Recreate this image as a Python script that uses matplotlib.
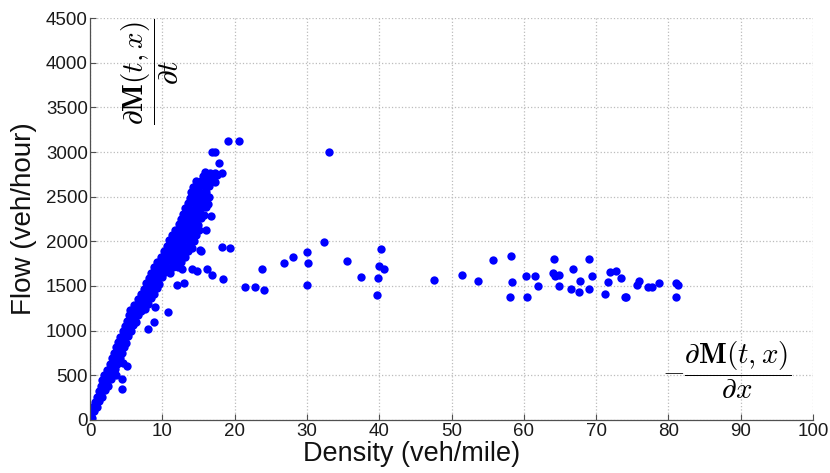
import matplotlib
matplotlib.use("Agg")
import matplotlib.pyplot as plt

# Free-flow branch: densely packed observations (veh/mile, veh/hour)
density_core = [
    0.1, 0.3,
    0.3, 0.6,
    0.5, 0.9,
    0.7, 1.2,
    1.0, 1.3, 1.6,
    1.2, 1.7, 2.1,
    1.5, 2.0, 2.5,
    1.7, 2.3, 2.9,
    2.0, 2.6, 3.2, 3.6,
    2.3, 2.9, 3.5,
    2.7, 3.2, 3.8, 4.5,
    3.0, 3.5, 4.1,
    3.3, 3.8, 4.4,
    3.6, 4.1, 4.7,
    3.9, 4.4, 5.0,
    4.2, 4.7, 5.3,
    4.6, 5.1, 5.7,
    4.8, 5.4, 6.0,
    5.1, 5.7, 6.3,
    5.4, 6.0, 6.6,
    5.6, 6.3, 7.0, 7.6,
    6.1, 6.7, 7.3, 8.0,
    6.6, 7.2, 7.8, 8.5,
    7.0, 7.6, 8.2, 8.9,
    7.4, 8.0, 8.6, 9.2,
    7.8, 8.4, 9.0, 9.6,
    8.2, 8.8, 9.4, 10.0,
    8.5, 9.1, 9.7, 10.4, 11.1,
    8.9, 9.5, 10.1, 10.8, 11.5, 12.2,
    9.3, 9.9, 10.5, 11.2, 11.9, 12.6,
    9.8, 10.4, 11.0, 11.7, 12.4, 13.1,
    10.2, 10.8, 11.4, 12.1, 12.8, 13.5,
    10.6, 11.2, 11.8, 12.5, 13.2, 13.9,
    10.9, 11.5, 12.2, 12.9, 13.6, 14.4,
    11.4, 12.0, 12.7, 13.4, 14.1, 14.7,
    11.8, 12.4, 13.1, 13.8, 14.5, 15.1,
    12.3, 12.9, 13.6, 14.3, 15.0,
    12.6, 13.3, 14.0, 14.7, 15.4,
    12.9, 13.6, 14.3, 15.0, 15.7,
    13.2, 13.9, 14.6, 15.3, 16.0,
    13.5, 14.2, 14.9, 15.6, 16.3,
    13.8, 14.5, 15.2, 15.9, 16.4,
    14.0, 14.7, 15.4, 16.1,
    14.3, 15.0, 15.7, 16.5,
    14.6, 15.3, 16.0, 16.8, 17.3,
    15.6, 16.3, 17.0, 17.6,
    15.9, 16.6, 17.3,
]
flow_core = [
    35, 20,
    90, 100,
    155, 145,
    200, 215,
    260, 270, 255,
    330, 320, 335,
    380, 392, 378,
    450, 440, 455,
    505, 498, 512, 500,
    560, 572, 566,
    625, 618, 632, 640,
    690, 684, 698,
    745, 756, 750,
    812, 805, 816,
    868, 875, 862,
    930, 925, 938,
    992, 985, 996,
    1050, 1044, 1058,
    1108, 1115, 1102,
    1172, 1165, 1178,
    1230, 1236, 1224, 1240,
    1288, 1295, 1282, 1300,
    1350, 1344, 1356, 1362,
    1410, 1418, 1404, 1414,
    1468, 1475, 1462, 1480,
    1530, 1524, 1536, 1520,
    1590, 1584, 1596, 1600,
    1650, 1644, 1656, 1662, 1640,
    1712, 1705, 1718, 1700, 1710, 1716,
    1770, 1764, 1776, 1782, 1760, 1772,
    1830, 1838, 1824, 1836, 1828, 1820,
    1890, 1884, 1896, 1902, 1880, 1888,
    1950, 1944, 1958, 1948, 1940, 1955,
    2010, 2016, 2004, 2012, 2020, 2002,
    2070, 2064, 2078, 2068, 2060, 2075,
    2130, 2124, 2136, 2128, 2140, 2122,
    2190, 2196, 2184, 2192, 2186,
    2250, 2244, 2256, 2248, 2258,
    2310, 2316, 2304, 2312, 2300,
    2370, 2364, 2376, 2368, 2380,
    2430, 2436, 2424, 2432, 2420,
    2490, 2484, 2496, 2488, 2500,
    2550, 2556, 2544, 2552,
    2610, 2604, 2616, 2620,
    2670, 2676, 2664, 2672, 2660,
    2730, 2724, 2736, 2740,
    2775, 2770, 2762,
]

# Scattered observations around the edge of the free-flow branch
density_edge = [16.0, 16.7, 15.4, 14.1, 15.2, 12.7, 14.1, 14.8, 16.2, 16.9,
                18.4, 13.0, 12.0, 10.8, 9.0, 8.8, 8.0, 5.1, 4.4, 4.4,
                17.8, 18.2, 16.9, 17.3, 19.1, 20.6, 18.3, 19.3]
flow_edge = [2128, 2285, 1896, 1922, 1904, 1687, 1687, 1672, 1687, 1624,
             1575, 1530, 1512, 1206, 1262, 1101, 1019, 608, 459, 347,
             2881, 2762, 3000, 3000, 3124, 3124, 1941, 1922]

# Congested branch
density_cong = [21.5, 22.8, 24.0, 23.8, 26.8, 28.1, 30.0, 30.2, 30.0, 32.4,
                33.1, 35.5, 37.5, 40.2, 40.0, 40.7, 39.9, 39.7,
                47.6, 51.4, 53.6, 55.7, 58.2, 58.3, 58.1,
                60.3, 61.5, 60.5, 61.9,
                64.2, 64.0, 64.8, 64.3, 64.8, 66.5, 66.8, 67.8, 67.7,
                69.0, 69.5, 69.0, 71.9, 72.8, 71.6, 71.3, 73.4, 74.0, 74.2,
                76.0, 75.7, 77.2, 77.7, 78.7, 81.1, 81.3, 81.0]
flow_cong = [1489, 1489, 1456, 1687, 1758, 1825, 1878, 1761, 1512, 1995,
             3000, 1782, 1605, 1915, 1721, 1687, 1584, 1400,
             1562, 1622, 1557, 1792, 1840, 1542, 1381,
             1616, 1616, 1381, 1504,
             1799, 1650, 1624, 1616, 1504, 1467, 1687, 1557, 1430,
             1799, 1616, 1467, 1661, 1672, 1542, 1411, 1586, 1374, 1381,
             1557, 1512, 1493, 1493, 1531, 1531, 1512, 1374]

x_ticks = list(range(0, 101, 10))
y_ticks = list(range(0, 4501, 500))

plt.rcParams["font.family"] = ["Liberation Sans", "DejaVu Sans"]
plt.rcParams["mathtext.fontset"] = "cm"

fig = plt.figure(figsize=(8.30, 4.73), dpi=100)
ax = fig.add_axes([90 / 830, 1 - 420 / 473, 723 / 830, 402 / 473])

dot = dict(linestyle="none", marker="o", markersize=6.0,
           color="#0000ff", markeredgewidth=0)
ax.plot(density_core, flow_core, **dot)
ax.plot(density_edge, flow_edge, **dot)
ax.plot(density_cong, flow_cong, **dot)

ax.set_xlim(0, 100)
ax.set_ylim(0, 4500)
ax.set_xticks(x_ticks)
ax.set_yticks(y_ticks)
ax.grid(True, linestyle=":", color="#bcbcbc", linewidth=0.9)
ax.set_axisbelow(True)

for side in ("top", "right"):
    ax.spines[side].set_visible(False)
for side in ("left", "bottom"):
    ax.spines[side].set_color("#505050")
    ax.spines[side].set_linewidth(0.9)

ax.tick_params(direction="in", length=4, width=0.8, color="#505050",
               labelsize=13.5, labelcolor="#1a1a1a")
ax.tick_params(axis="x", pad=2.5)
ax.tick_params(axis="y", pad=1.5)

ax.set_xlabel("Density (veh/mile)", fontsize=19.5, color="#111111")
ax.set_ylabel("Flow (veh/hour)", fontsize=20, color="#111111")
ax.xaxis.set_label_coords(0.445, -0.052)
ax.yaxis.set_label_coords(-0.073, 0.5)

ax.text(0.083, 0.866, r"$\dfrac{\partial \mathbf{M}(t,x)}{\partial t}$",
        transform=ax.transAxes, rotation=90, fontsize=21,
        ha="center", va="center")
ax.text(0.881, 0.124, r"$-\dfrac{\partial \mathbf{M}(t,x)}{\partial x}$",
        transform=ax.transAxes, fontsize=21, ha="center", va="center")

fig.savefig("out.png", dpi=100, facecolor="white")
